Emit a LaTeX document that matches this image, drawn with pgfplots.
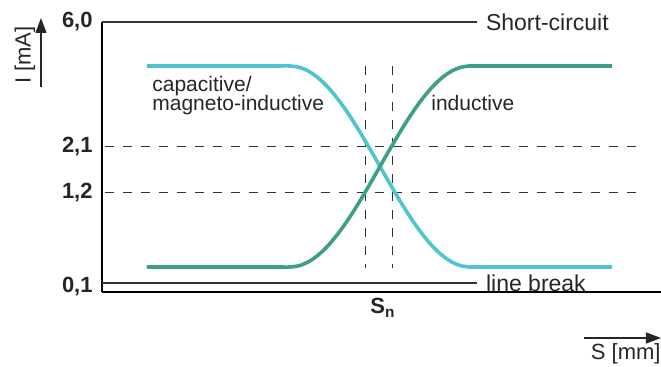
\documentclass[border=0pt]{standalone}
\usepackage{pgfplots}
\pgfplotsset{compat=1.18}
\usepackage{fontspec}
\setmainfont{Liberation Sans}
\usetikzlibrary{arrows.meta}
\definecolor{capcol}{RGB}{80,196,206}
\definecolor{indcol}{RGB}{62,158,136}
\definecolor{dashcol}{RGB}{50,50,50}
\begin{document}
\fontsize{10pt}{12pt}\selectfont
\lineskiplimit=-20pt\relax
\begin{tikzpicture}
\begin{axis}[
  x=0.5pt, y=0.5pt,
  xmin=102, xmax=661, ymin=75, ymax=345,
  axis x line=bottom, axis y line=left,
  axis line style={-, line width=0.65pt, black},
  clip=false,
  xtick={383},
  xticklabels={\textbf{S}\textsubscript{\textbf{n}}},
  ytick={80,174,220,345},
  yticklabels={{\textbf{0,1}},{\textbf{1,2}},{\textbf{2,1}},{\textbf{6,0}}},
  major tick length=0pt,
  tick label style={font=\fontsize{11pt}{13pt}\selectfont, text=black!85},
  yticklabel style={anchor=east, inner sep=0pt, xshift=-4.5pt},
  xticklabel style={anchor=north, inner sep=0pt, yshift=-3pt},
]
% reference lines
\addplot[black!80, line width=0.55pt] coordinates {(102,345) (477,345)};
\addplot[black!80, line width=0.55pt] coordinates {(102,84) (477,84)};
\addplot[dashcol, line width=0.5pt, dash pattern=on 4.5pt off 4.5pt] coordinates {(105,220) (640,220)};
\addplot[dashcol, line width=0.5pt, dash pattern=on 4.5pt off 4.5pt] coordinates {(105,174) (640,174)};
\addplot[dashcol, line width=0.5pt, dash pattern=on 4.5pt off 4.5pt] coordinates {(366,301) (366,99)};
\addplot[dashcol, line width=0.5pt, dash pattern=on 4.5pt off 4.5pt] coordinates {(393,301) (393,99)};
% capacitive
\addplot[capcol, line width=1.8pt, smooth] coordinates {
 (147,301) (270,301) (280,301) (290,301) (300,299.47) (310,294.94) (320,287.54)
 (330,277.49) (340,265.10) (350,250.75) (360,234.87) (370,217.95) (380,200.5)
 (390,183.05) (400,166.13) (410,150.25) (420,135.90) (430,123.51) (440,113.46)
 (450,106.06) (460,101.53) (470,100) (480,100) (612,100)};
% inductive
\addplot[indcol, line width=1.8pt, smooth] coordinates {
 (147,100) (270,100) (280,100) (290,100) (300,101.53) (310,106.06) (320,113.46)
 (330,123.51) (340,135.90) (350,150.25) (360,166.13) (370,183.05) (380,200.5)
 (390,217.95) (400,234.87) (410,250.75) (420,265.10) (430,277.49) (440,287.54)
 (450,294.94) (460,299.47) (470,301) (480,301) (612,301)};
% texts
\node[anchor=west, text=black!85, font=\fontsize{11.5pt}{13pt}\selectfont] at (axis cs:479,345) {Short-circuit};
\node[anchor=west, text=black!85, font=\fontsize{11.5pt}{13pt}\selectfont] at (axis cs:479,84) {line break};
\node[anchor=north west, inner sep=0pt, align=left, text=black!85,
      font=\fontsize{10.5pt}{9.6pt}\selectfont] at (axis cs:152,291)
      {capacitive/\\magneto-inductive};
\node[anchor=base west, inner sep=0pt, text=black!85, font=\fontsize{10.5pt}{12pt}\selectfont] at (axis cs:431,256) {inductive};
\node[rotate=90, inner sep=0pt, text=black!85, font=\fontsize{11pt}{13pt}\selectfont] at (axis cs:25,312) {I [mA]};
\draw[black!85, line width=0.6pt, -{Triangle[length=7.5pt, width=5.5pt]}] (axis cs:41,280) -- (axis cs:41,349);
\draw[black!85, line width=0.6pt, -{Triangle[length=7.5pt, width=5.5pt]}] (axis cs:584,29) -- (axis cs:661,29);
\node[anchor=east, inner sep=0pt, text=black!85, font=\fontsize{11pt}{13pt}\selectfont] at (axis cs:661,13) {S [mm]};
\coordinate (BL) at (axis cs:0,0);
\coordinate (TR) at (axis cs:661,367);
\end{axis}
\pgfresetboundingbox
\path[use as bounding box] (BL) rectangle (TR);
\end{tikzpicture}
\end{document}
